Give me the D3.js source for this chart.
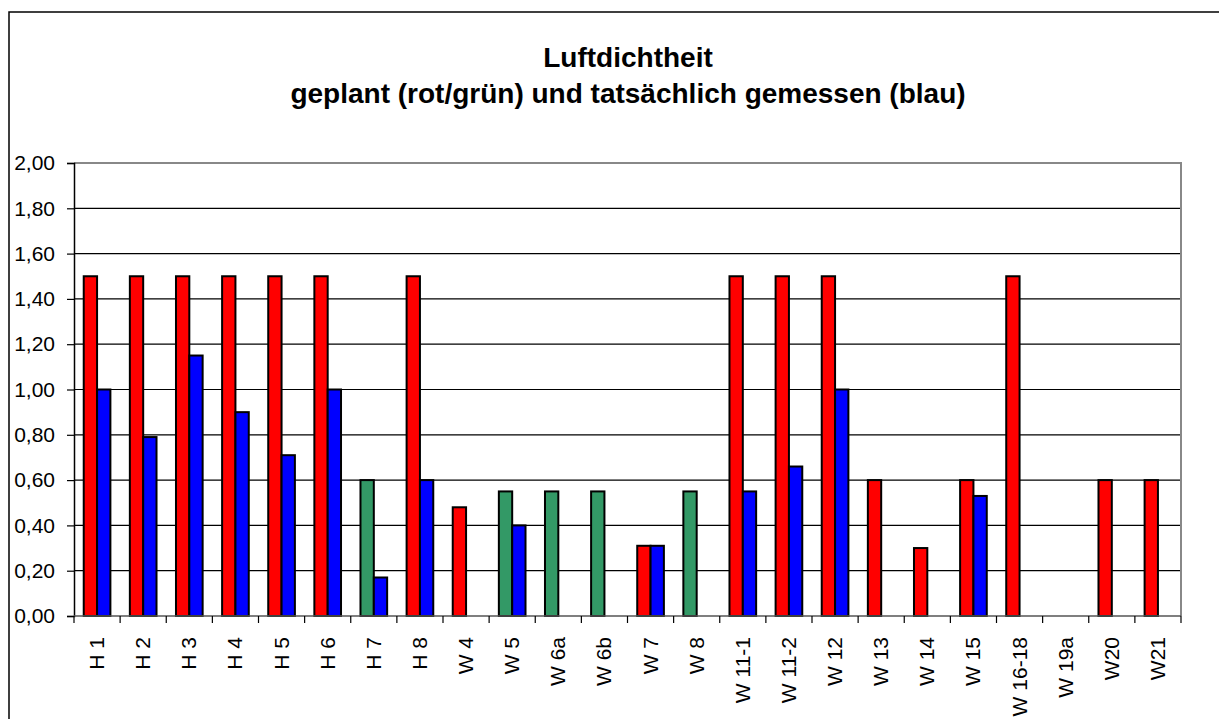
<!DOCTYPE html>
<html>
<head>
<meta charset="utf-8">
<script src="https://cdn.jsdelivr.net/npm/d3@7"></script>
<style>
  body { margin: 0; background: #fff; }
  svg { display: block; font-family: "Liberation Sans", Arial, sans-serif; }
</style>
</head>
<body>
<div id="chart"></div>
<script>
// Luftdichtheit - geplant vs. gemessen
var categories = ["H 1","H 2","H 3","H 4","H 5","H 6","H 7","H 8","W 4","W 5","W 6a","W 6b",
  "W 7","W 8","W 11-1","W 11-2","W 12","W 13","W 14","W 15","W 16-18","W 19a","W20","W21"]
var planned = [1.5,1.5,1.5,1.5,1.5,1.5,0.6,1.5,0.48,0.55,0.55,0.55,
  0.31,0.55,1.5,1.5,1.5,0.6,0.3,0.6,1.5,null,0.6,0.6]
// true = planned value shown green (grün), else red (rot)
var plannedGreen = [false,false,false,false,false,false,true,false,false,true,true,true,
  false,true,false,false,false,false,false,false,false,false,false,false]
var measured = [1.0,0.79,1.15,0.9,0.71,1.0,0.17,0.6,null,0.4,null,null,
  0.31,null,0.55,0.66,1.0,null,null,0.53,null,null,null,null]
var yTicks = [0,0.2,0.4,0.6,0.8,1.0,1.2,1.4,1.6,1.8,2.0]
var titleLines = ["Luftdichtheit","geplant (rot/grün) und tatsächlich gemessen (blau)"]

var W = 1219, H = 719
var plotLeft = 74, plotRight = 1181, plotTop = 163, plotBottom = 616

var svg = d3.select("#chart").append("svg").attr("width",W).attr("height",H)

// outer frame (runs off the picture on right/bottom)
svg.append("rect").attr("x",9).attr("y",12).attr("width",W).attr("height",H)
  .attr("fill","none").attr("stroke","#000").attr("stroke-width",1.5)

svg.selectAll("text.title").data(titleLines).enter().append("text")
  .attr("class","title")
  .attr("x",628).attr("y",function(d,i){ return 67+i*36 })
  .attr("text-anchor","middle")
  .style("font-size","28px").style("font-weight","bold")
  .text(function(d){ return d })

var x = d3.scaleBand().domain(categories).range([plotLeft,plotRight])
var x1 = d3.scaleBand().domain(["p","m"]).range([0,x.bandwidth()]).paddingInner(0).paddingOuter(0.73)
var y = d3.scaleLinear().domain([0,2]).range([plotBottom,plotTop])

// gridlines
svg.append("g").selectAll("line").data(yTicks.slice(1,-1)).enter().append("line")
  .attr("x1",plotLeft).attr("x2",plotRight)
  .attr("y1",function(d){ return y(d) }).attr("y2",function(d){ return y(d) })
  .attr("stroke","#000").attr("stroke-width",1.2)

// plot border top/right gray
svg.append("path")
  .attr("d","M"+plotLeft+","+y(2)+"H"+plotRight+"V"+plotBottom)
  .attr("fill","none").attr("stroke","#888").attr("stroke-width",2)

var fmt = function(d){ return d3.format(".2f")(d).replace(".",",") }

var yAxis = svg.append("g").attr("transform","translate("+plotLeft+",0)")
  .call(d3.axisLeft(y).tickValues(yTicks).tickFormat(fmt).tickSize(7).tickPadding(12))
yAxis.select(".domain").attr("stroke","#000").attr("stroke-width",1.5)
yAxis.selectAll(".tick line").attr("stroke","#000").attr("stroke-width",1.2)
yAxis.selectAll("text").attr("font-size",21).attr("fill","#000")
  .attr("font-family","Liberation Sans, Arial, sans-serif")

var bars = svg.append("g").selectAll("g").data(categories).enter().append("g")
  .attr("transform",function(d){ return "translate("+x(d)+",0)" })

bars.filter(function(d,i){ return planned[i]!=null }).append("rect")
  .attr("x",x1("p")).attr("width",x1.bandwidth())
  .attr("y",function(d){ return y(planned[categories.indexOf(d)]) })
  .attr("height",function(d){ return plotBottom - y(planned[categories.indexOf(d)]) })
  .attr("fill",function(d){ return plannedGreen[categories.indexOf(d)] ? "#339966" : "#ff0000" })
  .attr("stroke","#000").attr("stroke-width",2)

bars.filter(function(d,i){ return measured[i]!=null }).append("rect")
  .attr("x",x1("m")).attr("width",x1.bandwidth())
  .attr("y",function(d){ return y(measured[categories.indexOf(d)]) })
  .attr("height",function(d){ return plotBottom - y(measured[categories.indexOf(d)]) })
  .attr("fill","#0000ff")
  .attr("stroke","#000").attr("stroke-width",2)

// x axis with ticks at category boundaries
var xAxis = svg.append("g").attr("transform","translate(0,"+plotBottom+")")
xAxis.append("line").attr("x1",plotLeft).attr("x2",plotRight).attr("stroke","#555").attr("stroke-width",1.5)
xAxis.selectAll("line.tk").data(categories.concat(["_end"])).enter().append("line")
  .attr("class","tk")
  .attr("x1",function(d,i){ return plotLeft + i*x.step() }).attr("x2",function(d,i){ return plotLeft + i*x.step() })
  .attr("y1",0).attr("y2",7).attr("stroke","#000").attr("stroke-width",1.2)
xAxis.selectAll("text").data(categories).enter().append("text")
  .attr("transform",function(d){ return "translate("+(x(d)+x.bandwidth()/2+7)+",21) rotate(-90)" })
  .attr("text-anchor","end")
  .style("font-size","21px")
  .text(function(d){ return d })
</script>
</body>
</html>
